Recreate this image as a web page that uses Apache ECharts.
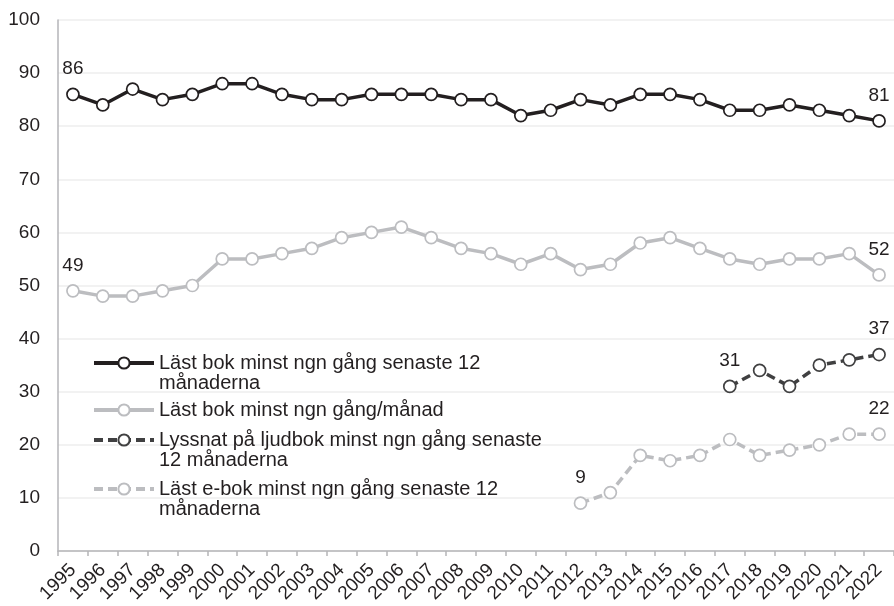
<!DOCTYPE html>
<html>
<head>
<meta charset="utf-8">
<script src="https://cdn.jsdelivr.net/npm/echarts@6/dist/echarts.min.js"></script>
<style>
  html, body { margin: 0; padding: 0; background: #fff; }
</style>
</head>
<body>
<div id="main" style="width: 894px;height:606px;"></div>
<script>
// data
const years = ['1995', '1996', '1997', '1998', '1999', '2000', '2001', '2002', '2003', '2004',
  '2005', '2006', '2007', '2008', '2009', '2010', '2011', '2012', '2013', '2014',
  '2015', '2016', '2017', '2018', '2019', '2020', '2021', '2022']
const lastYear = [86, 84, 87, 85, 86, 88, 88, 86, 85, 85, 86, 86, 86, 85, 85, 82, 83, 85, 84, 86,
  86, 85, 83, 83, 84, 83, 82, 81]
const perMonth = [49, 48, 48, 49, 50, 55, 55, 56, 57, 59, 60, 61, 59, 57, 56, 54, 56, 53, 54, 58,
  59, 57, 55, 54, 55, 55, 56, 52]
const audioBook = [null, null, null, null, null, null, null, null, null, null, null, null, null, null,
  null, null, null, null, null, null, null, null, 31, 34, 31, 35, 36, 37]
const eBook = [null, null, null, null, null, null, null, null, null, null, null, null, null, null,
  null, null, null, 9, 11, 18, 17, 18, 21, 18, 19, 20, 22, 22]
const yTicks = [0, 100, 10] // min, max, interval

const names = [
  'Läst bok minst ngn gång senaste 12\nmånaderna',
  'Läst bok minst ngn gång/månad',
  'Lyssnat på ljudbok minst ngn gång senaste\n12 månaderna',
  'Läst e-bok minst ngn gång senaste 12\nmånaderna'
]

const font = '"Liberation Sans", Arial, Helvetica, sans-serif'
const txt = '#231f20'

// label only the first and last value of a series
function withEndLabels (arr) {
  const first = arr.findIndex(v => v != null)
  const last = arr.length - 1
  return arr.map((v, i) => {
    if (i === first || i === last) {
      return { value: v, label: { show: true } }
    }
    return v
  })
}

function lineSeries (name, data, color, dashed) {
  return {
    name: name,
    type: 'line',
    data: withEndLabels(data),
    symbol: 'circle',
    symbolSize: 12,
    showAllSymbol: true,
    lineStyle: { color: color, width: 3.5, type: dashed ? [9, 5] : 'solid' },
    itemStyle: { color: '#ffffff', borderColor: color, borderWidth: 1.7 },
    label: {
      show: false,
      position: 'top',
      distance: 9,
      color: txt,
      fontSize: 19,
      fontFamily: font
    },
    emphasis: { disabled: true },
    z: 3
  }
}

// legend text: the leading empty line puts the first text line next to the icon
function legendAt (name, top) {
  return {
    show: true,
    orient: 'vertical',
    left: 92,
    top: top,
    padding: 0,
    itemWidth: 60,
    itemHeight: 14,
    data: [name],
    selectedMode: false,
    lineStyle: { width: 4 },
    formatter: function (n) {
      return n.indexOf('\n') >= 0 ? '\n' + n : n
    },
    textStyle: { fontSize: 20, lineHeight: 20, color: txt, fontFamily: font }
  }
}

const myChart = echarts.init(document.getElementById('main'))

const option = {
  animation: false,
  backgroundColor: '#ffffff',
  textStyle: { fontFamily: font },
  grid: { left: 58, right: -3, top: 20, bottom: 55, containLabel: false },
  legend: [
    legendAt(names[0], 333),
    legendAt(names[1], 400),
    legendAt(names[2], 410),
    legendAt(names[3], 459)
  ],
  xAxis: {
    type: 'category',
    data: years,
    boundaryGap: true,
    axisLine: { lineStyle: { color: '#b5b5b8', width: 1.5 } },
    axisTick: { show: true, length: 5, lineStyle: { color: '#b5b5b8', width: 1.5 } },
    axisLabel: {
      interval: 0,
      rotate: 45,
      margin: 16,
      fontSize: 19,
      color: txt,
      fontFamily: font
    },
    splitLine: { show: false }
  },
  yAxis: {
    type: 'value',
    min: yTicks[0],
    max: yTicks[1],
    interval: yTicks[2],
    axisLine: { show: true, lineStyle: { color: '#b5b5b8', width: 1.5 } },
    axisTick: { show: false },
    axisLabel: { margin: 18, fontSize: 19, color: txt, fontFamily: font },
    splitLine: { lineStyle: { color: '#eeeeee', width: 1.5 } }
  },
  series: [
    lineSeries(names[0], lastYear, '#231f20', false),
    lineSeries(names[1], perMonth, '#bcbdc0', false),
    lineSeries(names[2], audioBook, '#404041', true),
    lineSeries(names[3], eBook, '#bcbdc0', true)
  ]
}

myChart.setOption(option)
</script>
</body>
</html>
